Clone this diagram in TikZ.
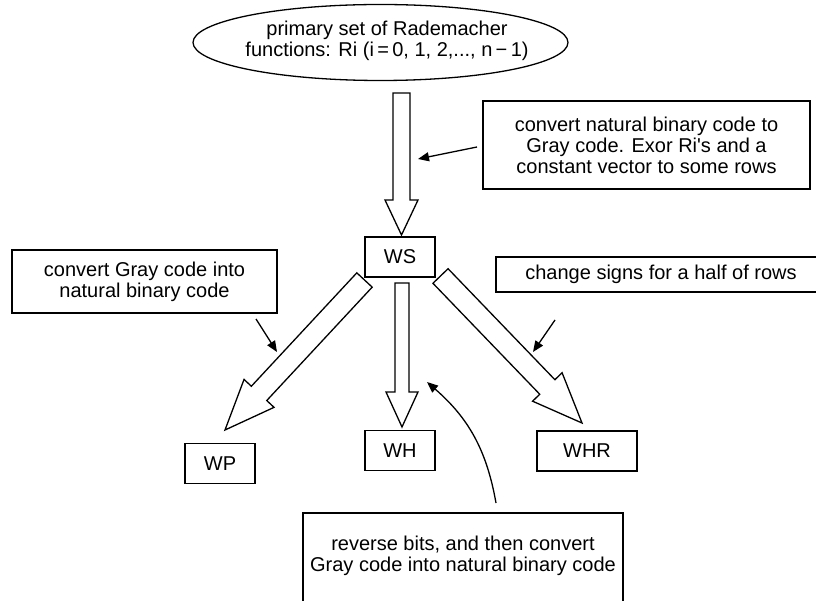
\documentclass[tikz,border=0pt]{standalone}
\usepackage{fontspec}
\setmainfont{Liberation Sans}
\usetikzlibrary{shapes.geometric,arrows.meta,calc}

%% hollow block arrow: tail, tip, half shaft width, half head width, head length
\newcommand{\fatarrow}[5]{%
  \coordinate (fa-base) at ($(#2)!#5pt!(#1)$);
  \draw[fatDecorate] ($(#1)!#3pt!90:(#2)$) -- ($(fa-base)!#3pt!90:(#2)$)
    -- ($(fa-base)!#4pt!90:(#2)$) -- (#2) -- ($(fa-base)!#4pt!-90:(#2)$)
    -- ($(fa-base)!#3pt!-90:(#2)$) -- ($(#1)!#3pt!-90:(#2)$) -- cycle;
}

\begin{document}
\begin{tikzpicture}
[x=1pt,y=1pt,
  textDecorate/.style={font=\fontsize{20}{21}\selectfont,align=center},
  boxDecorate/.style={shape=rectangle,draw,line width=1.3pt,inner sep=0pt,textDecorate},
  lineDecorate/.style={-{Triangle[length=11pt,width=9pt]},line width=1.3pt},
  fatDecorate/.style={line width=1.3pt,line join=miter}]
\clip (0,0) rectangle (816,600);
%% nodes
\node (prim) at (380.5,557.5) [shape=ellipse,draw,line width=1.3pt,
  minimum width=375pt,minimum height=76pt,inner sep=0pt] {};
\node (primtext) at (387,559.5) [textDecorate]
  {primary set of Rademacher\\functions: Ri (i\,=\,0, 1, 2,..., n\,−\,1)};
\foreach \nodename/\x/\y/\w/\txt in {
  ws/400/343/70/WS,
  wp/220/136.5/70/WP,
  wh/400/149.5/70/WH,
  whr/587/149/100/WHR}
{
  \node (\nodename) at (\x,\y) [boxDecorate,minimum width=\w pt,minimum height=40pt] {\txt};
}
\node (noteGray) at (646.5,455) [boxDecorate,minimum width=327pt,minimum height=88pt]
  {convert natural binary code to\\Gray code. Exor Ri\textquotesingle s and a\\constant vector to some rows};
\node (noteNatural) at (144.5,318.5) [boxDecorate,minimum width=265pt,minimum height=63pt]
  {convert Gray code into\\natural binary code};
\node (noteSign) at (661,325.5) [boxDecorate,minimum width=330pt,minimum height=35pt]
  {change signs for a half of rows};
\node (noteReverse) at (463,32.5) [boxDecorate,minimum width=320pt,minimum height=109pt]
  {reverse bits, and then convert\\Gray code into natural binary code\\\strut};
%% hollow arrows
\coordinate (t1) at (401.5,507);  \coordinate (h1) at (401.5,365);
\coordinate (t2) at (402,317);    \coordinate (h2) at (402,173);
\coordinate (t3) at (364.5,320);  \coordinate (h3) at (225,170);
\coordinate (t4) at (440.5,324);  \coordinate (h4) at (582,177);
\foreach \s/\e/\a/\b/\c in {t1/h1/8.5/16.5/35, t2/h2/7/16/35,
  t3/h3/10.5/20.5/50, t4/h4/10.5/20.5/50}
{
  \fatarrow{\s}{\e}{\a}{\b}{\c}
}
%% pointers
\coordinate (p1) at (477,453);  \coordinate (q1) at (418,441);
\coordinate (p2) at (256,281);  \coordinate (q2) at (277,248);
\coordinate (p3) at (555,280);  \coordinate (q3) at (533,248);
\coordinate (p4) at (496,97);   \coordinate (q4) at (427,218);
\draw[lineDecorate] (p1) -- (q1);
\draw[lineDecorate] (p2) -- (q2);
\draw[lineDecorate] (p3) -- (q3);
\draw[lineDecorate] (p4) to[out=100,in=-41] (q4);
\end{tikzpicture}
\end{document}
